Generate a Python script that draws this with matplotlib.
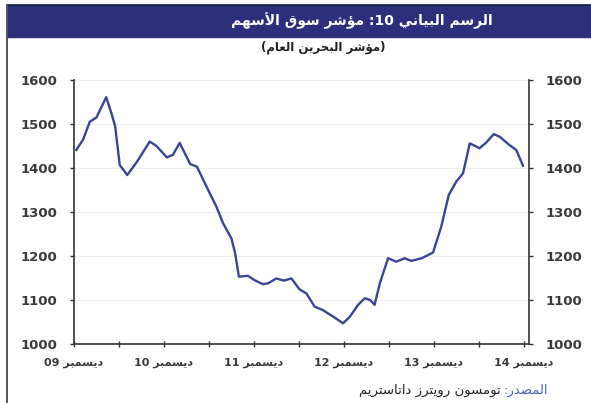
import matplotlib
matplotlib.use('Agg')
import matplotlib.pyplot as plt
from matplotlib.patches import Rectangle
from matplotlib.lines import Line2D


# months since Dec 2009 and index level
months = [0.3, 1.2, 2.1, 3.0, 4.3, 5.0, 5.5, 6.1, 7.1, 8.4, 10.1, 11.0,
          12.4, 13.2, 14.1, 14.8, 15.5, 16.4, 17.7, 19.0, 19.9, 21.0,
          21.5, 22.0, 23.2, 24.1, 25.2, 25.9, 27.0, 28.0, 29.0, 30.1,
          31.0, 32.1, 33.2, 34.6, 35.9, 36.8, 37.9, 38.8, 39.5, 40.1,
          40.8, 41.9, 43.0, 44.1, 45.0, 46.4, 47.9, 49.0, 50.0, 51.0,
          51.9, 52.8, 54.1, 55.0, 56.0, 56.8, 58.1, 59.0, 59.9]
index_level = [1441, 1464, 1505, 1515, 1561, 1524, 1494, 1407, 1384, 1414,
               1460, 1450, 1424, 1430, 1457, 1433, 1409, 1403, 1357, 1312,
               1274, 1240, 1206, 1153, 1155, 1145, 1136, 1138, 1149, 1144,
               1149, 1124, 1115, 1085, 1077, 1062, 1047, 1062, 1089, 1104,
               1100, 1089, 1138, 1195, 1187, 1195, 1189, 1195, 1208, 1267,
               1339, 1369, 1388, 1456, 1445, 1458, 1477, 1471, 1452, 1441,
               1405]

x_tick_labels = ['ديسمبر 09', 'ديسمبر 10', 'ديسمبر 11',
                 'ديسمبر 12', 'ديسمبر 13', 'ديسمبر 14']
y_ticks = [1000, 1100, 1200, 1300, 1400, 1500, 1600]

title = 'الرسم البياني 10: مؤشر سوق الأسهم'
subtitle = '(مؤشر البحرين العام)'
source_label = 'المصدر:'
source_text = 'تومسون رويترز داتاستريم'

navy = '#2b2f7c'
line_col = '#3b4396'
text_col = '#3a3a3a'

# --- minimal arabic shaping (matplotlib has no RTL / joining support) ---
FORMS = {
    'ا': ('\uFE8D', '\uFE8E'),
    'أ': ('\uFE83', '\uFE84'),
    'ب': ('\uFE8F', '\uFE90', '\uFE91', '\uFE92'),
    'ت': ('\uFE95', '\uFE96', '\uFE97', '\uFE98'),
    'ح': ('\uFEA1', '\uFEA2', '\uFEA3', '\uFEA4'),
    'د': ('\uFEA9', '\uFEAA'),
    'ر': ('\uFEAD', '\uFEAE'),
    'ز': ('\uFEAF', '\uFEB0'),
    'س': ('\uFEB1', '\uFEB2', '\uFEB3', '\uFEB4'),
    'ش': ('\uFEB5', '\uFEB6', '\uFEB7', '\uFEB8'),
    'ص': ('\uFEB9', '\uFEBA', '\uFEBB', '\uFEBC'),
    'ع': ('\uFEC9', '\uFECA', '\uFECB', '\uFECC'),
    'ق': ('\uFED5', '\uFED6', '\uFED7', '\uFED8'),
    'ل': ('\uFEDD', '\uFEDE', '\uFEDF', '\uFEE0'),
    'م': ('\uFEE1', '\uFEE2', '\uFEE3', '\uFEE4'),
    'ن': ('\uFEE5', '\uFEE6', '\uFEE7', '\uFEE8'),
    'ه': ('\uFEE9', '\uFEEA', '\uFEEB', '\uFEEC'),
    'و': ('\uFEED', '\uFEEE'),
    'ؤ': ('\uFE85', '\uFE86'),
    'ي': ('\uFEF1', '\uFEF2', '\uFEF3', '\uFEF4'),
}
LAM_ALEF = {'ا': ('\uFEFB', '\uFEFC'), 'أ': ('\uFEF7', '\uFEF8')}
MIRROR = {'(': ')', ')': '('}


def shape(text):
    units = []
    i = 0
    while i < len(text):
        c = text[i]
        if c == 'ل' and i + 1 < len(text) and text[i + 1] in LAM_ALEF:
            units.append(('LA', text[i + 1]))
            i += 2
        else:
            units.append((c, None))
            i += 1

    def dual(u):
        return u[0] in FORMS and len(FORMS[u[0]]) == 4

    def joining(u):
        return u[0] == 'LA' or u[0] in FORMS

    out = ''
    for k, u in enumerate(units):
        prev = units[k - 1] if k > 0 else None
        nxt = units[k + 1] if k + 1 < len(units) else None
        jp = prev is not None and dual(prev) and joining(u)
        jn = nxt is not None and dual(u) and joining(nxt)
        if u[0] == 'LA':
            f = LAM_ALEF[u[1]]
            out += f[1] if jp else f[0]
        elif u[0] in FORMS:
            f = FORMS[u[0]]
            if jp and jn:
                out += f[3]
            elif jp:
                out += f[1]
            elif jn:
                out += f[2]
            else:
                out += f[0]
        else:
            out += u[0]
    return out


def visual(token):
    # reverse a token, keeping digit runs left-to-right
    runs = []
    for c in token:
        if c.isdigit() and runs and runs[-1].isdigit():
            runs[-1] += c
        else:
            runs.append(c)
    return ''.join(MIRROR.get(r, r) for r in reversed(runs))


def rtl(text):
    words = shape(text).split(' ')
    return ' '.join(visual(w) for w in reversed(words))


plt.rcParams['font.family'] = ['DejaVu Sans']

fig = plt.figure(figsize=(5.91, 4.03), dpi=100)
W, H = 591, 403

# title band and frame line
fig.patches.append(Rectangle((7 / W, 1 - 37 / H), 1 - 7 / W, 32 / H,
                             transform=fig.transFigure, color=navy, zorder=0))
fig.lines.append(Line2D([7 / W, 1], [1 - 5 / H, 1 - 5 / H],
                        transform=fig.transFigure, color='#1c1f4f', lw=1.2))
fig.lines.append(Line2D([7 / W, 7 / W], [0, 1 - 5 / H],
                        transform=fig.transFigure, color='#555555', lw=1.4))

fig.text(362 / W, 1 - 21 / H, rtl(title), color='white', fontsize=10,
         fontweight='bold', ha='center', va='center')
fig.text(323 / W, 1 - 47 / H, rtl(subtitle), color='#222222', fontsize=8.5,
         fontweight='bold', ha='center', va='center')

ax = fig.add_axes([74 / W, 1 - 344 / H, (529 - 74) / W, (344 - 80) / H])
ax.plot(months, index_level, color=line_col, lw=1.7)

ax.set_xlim(0, 60.7)
ax.set_ylim(1000, 1600)
ax.set_yticks(y_ticks)
ax.set_xticks(range(0, 61, 12))
ax.set_xticklabels([rtl(s) for s in x_tick_labels])
ax.set_xticks(range(6, 61, 12), minor=True)

ax.grid(axis='y', color='#ececec', lw=0.8)
ax.set_axisbelow(True)
for side in ['left', 'right', 'bottom']:
    ax.spines[side].set_color('#333333')
    ax.spines[side].set_linewidth(1.2)
ax.spines['top'].set_visible(False)

ax.tick_params(axis='y', which='both', left=True, right=True,
               labelleft=True, labelright=True, direction='out',
               length=3, width=1, color='#333333', labelcolor=text_col,
               labelsize=9.5, pad=9)
ax.tick_params(axis='x', which='both', direction='inout', length=4,
               width=1, color='#333333', labelcolor=text_col,
               labelsize=8, pad=8)
for lab in ax.get_yticklabels() + ax.get_xticklabels():
    lab.set_fontweight('bold')

# source line: blue label on the right, text to its left
src = fig.text(548 / W, 1 - 390 / H, rtl(source_label), color='#4a64b4',
               fontsize=9.5, ha='right', va='center')
fig.canvas.draw()
bb = src.get_window_extent()
fig.text(bb.x0 / W - 3 / W, 1 - 390 / H, rtl(source_text),
         color='#222222', fontsize=9.5, ha='right', va='center')

fig.savefig('out.png', dpi=100)
